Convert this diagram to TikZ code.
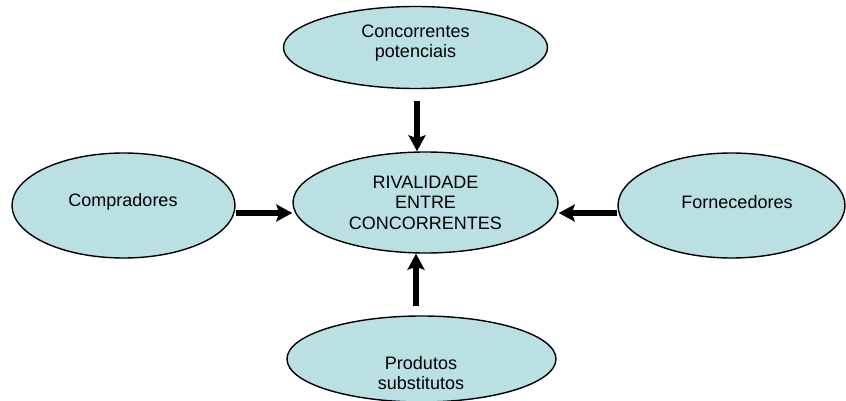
\documentclass[tikz,border=0pt]{standalone}
\usepackage{fontspec}
\setmainfont{Liberation Sans}
\usetikzlibrary{shapes.geometric,arrows.meta}
\definecolor{ovalfill}{RGB}{187,224,227}
\tikzset{
  oval/.style={ellipse, draw=black, line width=1.4pt, fill=ovalfill, inner sep=0pt,
    font=\fontsize{18}{20.5}\selectfont, align=center},
  arr/.style={line width=6pt, -{Stealth[length=16pt,width=17pt,inset=3pt]}},
  lbl/.style={font=\fontsize{18}{20.5}\selectfont, align=center, inner sep=0pt}
}
\begin{document}
\begin{tikzpicture}[x=1pt,y=-1pt]
\useasboundingbox (0,0) rectangle (846,401);
\node[oval, minimum width=264pt, minimum height=82pt] (top) at (415.5,47.5) {};
\node[lbl] (toptxt) at (415.5,43) {Concorrentes\\potenciais};
\node[oval, minimum width=265pt, minimum height=101pt] (mid) at (425.5,202.5) {RIVALIDADE\\ENTRE\\CONCORRENTES};
\node[oval, minimum width=223pt, minimum height=105pt] (left) at (123.5,205.5) {};
\node[lbl] (lefttxt) at (123,202) {Compradores};
\node[oval, minimum width=227pt, minimum height=105pt] (right) at (731.5,205.5) {};
\node[lbl] (righttxt) at (737,202) {Fornecedores};
\node[oval, minimum width=269pt, minimum height=86pt] (bot) at (421.5,359) {};
\node[lbl] (bottxt) at (421,373) {Produtos\\substitutos};
\draw[arr] ([xshift=1.5pt,yshift=-12pt]top.south) -- ([xshift=1.5pt]top.south |- mid.north);
\draw[arr] (left.east |- 0,213) -- (mid.west |- 0,213);
\draw[arr] (right.west |- 0,213) -- (mid.east |- 0,213);
\draw[arr] ([xshift=-5.5pt,yshift=9pt]bot.north) -- ([xshift=-5.5pt]bot.north |- mid.south);
\end{tikzpicture}
\end{document}
